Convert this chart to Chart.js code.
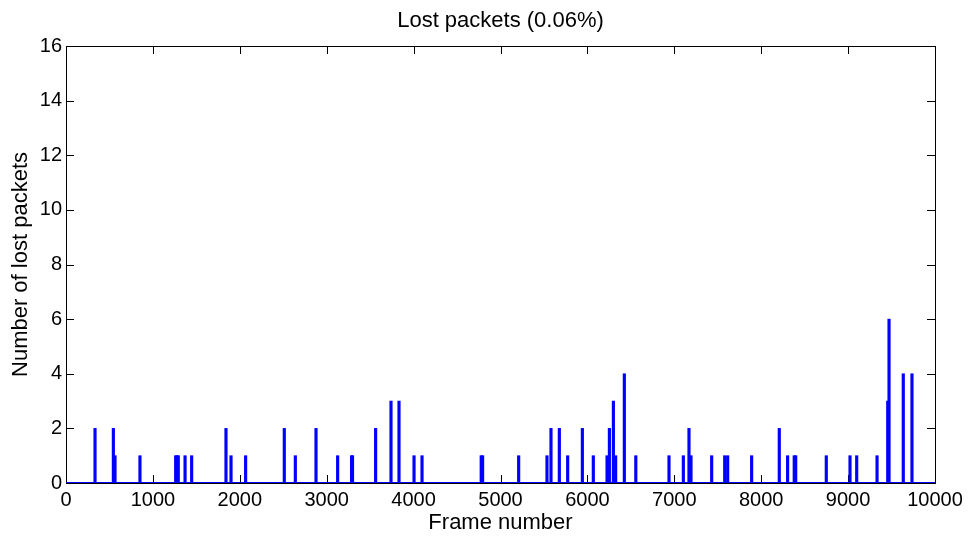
<!DOCTYPE html>
<html>
<head>
<meta charset="utf-8">
<title>Lost packets</title>
<script src="https://cdn.jsdelivr.net/npm/chart.js@4.4.0/dist/chart.umd.min.js"></script>
<style>
  html, body { margin: 0; padding: 0; background: #fff; }
</style>
</head>
<body>
<canvas id="lossChart" width="969" height="537"></canvas>
<script>
// frames where packets got lost
const frameNumbers = [334, 545, 564, 851, 1262, 1278, 1292, 1370, 1446, 1841, 1899, 2067,
  2512, 2639, 2877, 3126, 3286, 3297, 3563, 3740, 3832, 4005, 4097, 4778, 4794, 5209,
  5535, 5581, 5677, 5773, 5942, 6068, 6226, 6253, 6299, 6325, 6425, 6557, 6939, 7104,
  7169, 7192, 7430, 7580, 7614, 7890, 8208, 8304, 8380, 8397, 8749, 9022, 9099, 9333,
  9456, 9471, 9635, 9735];
const lostPackets = [2, 2, 1, 1, 1, 1, 1, 1, 1, 2, 1, 1,
  2, 1, 2, 1, 1, 1, 2, 3, 3, 1, 1, 1, 1, 1,
  1, 2, 2, 1, 2, 1, 1, 2, 3, 1, 4, 1, 1, 1,
  2, 1, 1, 1, 1, 1, 2, 1, 1, 1, 1, 1, 1, 1,
  3, 6, 4, 4];

const xRange = [0, 10000];
const yRange = [0, 16];
const titleText = 'Lost packets (0.06%)';

const FONT = '"Liberation Sans", Arial, Helvetica, sans-serif';
const TICK_LEN = 8;

// matlab style box + inward ticks
const boxPlugin = {
    id: 'boxTicks',
    beforeDatasetsDraw(chart) {
        const { ctx, chartArea: a, scales } = chart;
        ctx.save();
        ctx.strokeStyle = '#000';
        ctx.lineWidth = 1;
        ctx.beginPath();
        scales.x.ticks.forEach(t => {
            const px = Math.round(scales.x.getPixelForValue(t.value)) + 0.5;
            ctx.moveTo(px, a.bottom); ctx.lineTo(px, a.bottom - TICK_LEN);
            ctx.moveTo(px, a.top); ctx.lineTo(px, a.top + TICK_LEN);
        });
        scales.y.ticks.forEach(t => {
            const py = Math.round(scales.y.getPixelForValue(t.value)) + 0.5;
            ctx.moveTo(a.left, py); ctx.lineTo(a.left + TICK_LEN, py);
            ctx.moveTo(a.right, py); ctx.lineTo(a.right - TICK_LEN, py);
        });
        ctx.stroke();
        ctx.strokeRect(Math.round(a.left) + 0.5, Math.round(a.top) + 0.5,
            Math.round(a.right - a.left), Math.round(a.bottom - a.top));
        ctx.restore();
    }
};

const barPoints = frameNumbers.map((f, i) => ({ x: f, y: lostPackets[i] }));
const baseline = xRange.map(x => ({ x: x, y: 0 }));

new Chart(document.getElementById('lossChart'), {
    type: 'bar',
    data: {
        datasets: [{
            type: 'line',
            data: baseline,
            borderColor: '#0000ff',
            borderWidth: 2,
            pointRadius: 0
        }, {
            data: barPoints,
            backgroundColor: '#0000ff',
            barThickness: 2.5,
            borderWidth: 0
        }]
    },
    options: {
        responsive: false,
        animation: false,
        layout: { padding: { left: 0, right: 34, top: 0, bottom: 0 } },
        plugins: {
            legend: { display: false },
            tooltip: { enabled: false },
            title: {
                display: true,
                fullSize: false,
                text: titleText,
                color: '#000',
                font: { family: FONT, size: 22, weight: 'normal' },
                padding: { top: 8, bottom: 11.6 }
            }
        },
        scales: {
            x: {
                type: 'linear',
                min: xRange[0],
                max: xRange[1],
                offset: false,
                grid: { display: false, drawTicks: false },
                border: { display: false },
                ticks: {
                    stepSize: 1000,
                    color: '#000',
                    padding: 5,
                    maxRotation: 0,
                    font: { family: FONT, size: 20 },
                    callback: v => String(v)
                },
                title: {
                    display: true,
                    text: 'Frame number',
                    color: '#000',
                    font: { family: FONT, size: 22 },
                    padding: { top: 0, bottom: 1 }
                },
                afterFit(scale) { scale.height = 54; }
            },
            y: {
                min: yRange[0],
                max: yRange[1],
                grid: { display: false, drawTicks: false },
                border: { display: false },
                ticks: {
                    stepSize: 2,
                    color: '#000',
                    padding: 4,
                    font: { family: FONT, size: 20 }
                },
                title: {
                    display: true,
                    text: 'Number of lost packets',
                    color: '#000',
                    font: { family: FONT, size: 22 },
                    padding: { top: 8, bottom: 0 }
                },
                afterFit(scale) { scale.width = 66; }
            }
        }
    },
    plugins: [boxPlugin]
});
</script>
</body>
</html>
